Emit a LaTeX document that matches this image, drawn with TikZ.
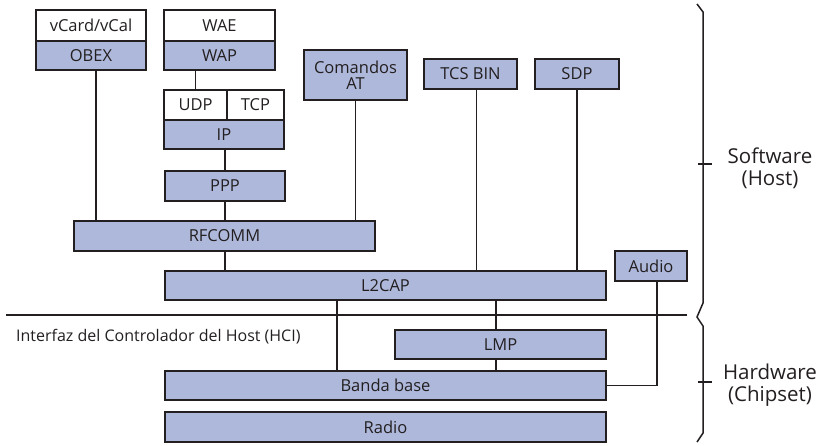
\documentclass[tikz,border=0pt]{standalone}
\usepackage{fontspec}
\setmainfont{Open Sans}
\definecolor{layerfill}{RGB}{174,184,219}
\definecolor{ink}{RGB}{35,31,32}
\begin{document}
\begin{tikzpicture}[x=1pt,y=-1pt,
  layer/.style={draw=ink,line width=1.8pt,fill=layerfill,inner sep=0pt,
    font=\fontsize{16.5}{16.5}\selectfont,text=ink,align=center},
  blank/.style={layer,fill=white},
  link/.style={draw=ink,line width=1.6pt},
  side/.style={font=\fontsize{20.5}{22}\selectfont,text=ink,align=center}]
\useasboundingbox (0,0) rectangle (816,445);
% upper protocol stack (host side)
\node[blank,minimum width=110pt,minimum height=31pt] (vcard) at (91,25.5) {vCard/vCal};
\node[layer,minimum width=110pt,minimum height=29pt] (obex) at (91,55.5) {OBEX};
\node[blank,minimum width=111pt,minimum height=31pt] (wae) at (219.5,25.5) {WAE};
\node[layer,minimum width=111pt,minimum height=29pt] (wap) at (219.5,55.5) {WAP};
\node[blank,minimum width=63pt,minimum height=30pt] (udp) at (195.5,105) {UDP};
\node[blank,minimum width=57pt,minimum height=30pt] (tcp) at (255.5,105) {TCP};
\node[layer,minimum width=120pt,minimum height=29pt] (ip) at (224,134.5) {IP};
\node[layer,minimum width=120pt,minimum height=30pt] (ppp) at (225,186) {PPP};
\node[layer,minimum width=103pt,minimum height=50pt] (at) at (355.5,75) {Comandos\\AT};
\node[layer,minimum width=93pt,minimum height=30pt] (tcs) at (470.5,74) {TCS BIN};
\node[layer,minimum width=84pt,minimum height=30pt] (sdp) at (577,74) {SDP};
\node[layer,minimum width=301pt,minimum height=30pt] (rfcomm) at (224.5,236) {RFCOMM};
\node[layer,minimum width=441pt,minimum height=29pt] (l2cap) at (385.5,285.5) {L2CAP};
\node[layer,minimum width=72pt,minimum height=30pt] (audio) at (651,266) {Audio};
% lower stack (controller side)
\node[layer,minimum width=211pt,minimum height=29pt] (lmp) at (500.5,344.5) {LMP};
\node[layer,minimum width=441pt,minimum height=29pt] (bb) at (385.5,385.5) {Banda base};
\node[layer,minimum width=441pt,minimum height=30pt] (radio) at (385.5,427) {Radio};
% host controller interface
\coordinate (hciL) at (6,315);
\coordinate (hciR) at (687,315);
\draw[draw=ink,line width=2.8pt] (hciL) -- (hciR);
\node[anchor=west,inner sep=0pt,font=\fontsize{16}{16}\selectfont,text=ink] (hci) at (16,337) {Interfaz del Controlador del Host (HCI)};
% connectors between layers
\draw[link] ([xshift=5pt]obex.south) -- ([xshift=5pt]obex.south |- rfcomm.north);
\draw[link] (udp.north) -- (udp.north |- wap.south);
\draw[link] (ppp.north) -- (ppp.north |- ip.south);
\draw[link] (ppp.south) -- (ppp.south |- rfcomm.north);
\draw[link] (at.south) -- (at.south |- rfcomm.north);
\draw[link] (ppp.south |- rfcomm.south) -- (ppp.south |- l2cap.north);
\draw[link] ([xshift=6pt]tcs.south) -- ([xshift=6pt]tcs.south |- l2cap.north);
\draw[link] (sdp.south) -- (sdp.south |- l2cap.north);
\draw[link] ([xshift=-48.5pt]l2cap.south) -- ([xshift=-48.5pt]l2cap.south |- bb.north);
\draw[link] ([xshift=-4.5pt]lmp.north |- l2cap.south) -- ([xshift=-4.5pt]lmp.north);
\draw[link] ([xshift=-4.5pt]lmp.south) -- ([xshift=-4.5pt]lmp.south |- bb.north);
\draw[link] ([xshift=6pt]audio.south) |- (bb.east);
% braces for software and hardware
\draw[draw=ink,line width=1.5pt,line join=miter]
  (697,4) -- (703,12) -- (703,303) -- (697,317) -- (703,326) -- (703,433) -- (697,442);
\draw[draw=ink,line width=1.5pt] (698,164) -- (712,164);
\draw[draw=ink,line width=1.5pt] (698,382) -- (712,382);
\node[side] (sw) at (770,168) {Software\\(Host)};
\node[side] (hw) at (770,385) {Hardware\\(Chipset)};
\end{tikzpicture}
\end{document}
